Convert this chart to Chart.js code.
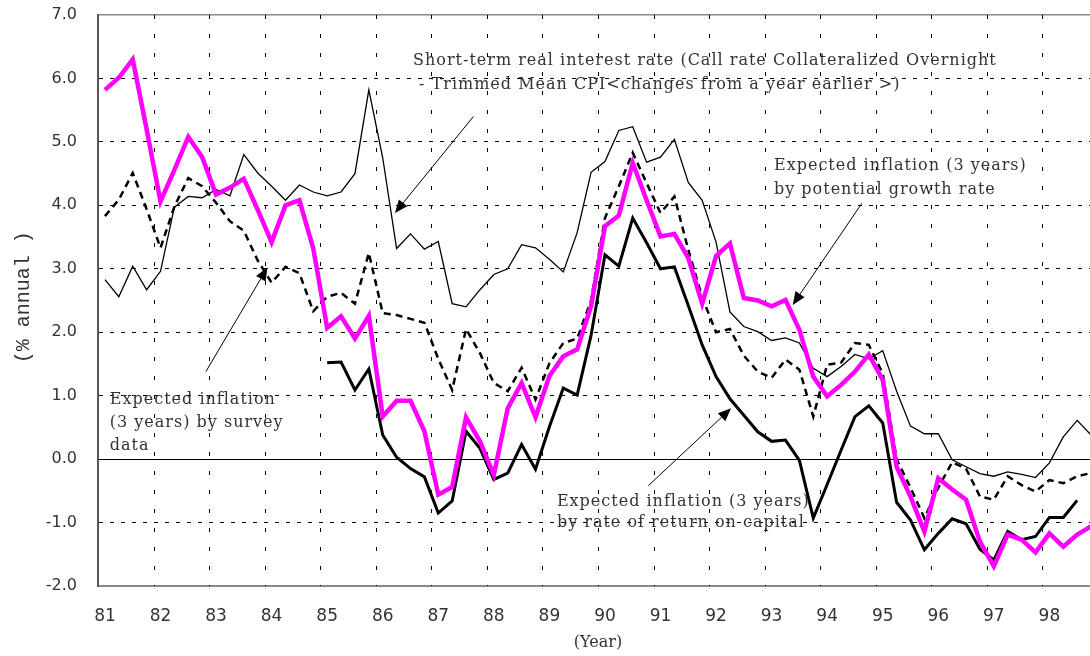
<!DOCTYPE html>
<html>
<head>
<meta charset="utf-8">
<script src="https://cdn.jsdelivr.net/npm/chart.js@4.4.1/dist/chart.umd.min.js"></script>
<style>
  html, body { margin: 0; padding: 0; background: #fff; overflow: hidden; }
  #wrap { width: 1100px; height: 656px; }
</style>
</head>
<body>
<div id="wrap"><canvas id="chart" width="1100" height="656"></canvas></div>
<script>
// quarterly data, 81 Q1 .. 98 Q4
const years = ['81', '82', '83', '84', '85', '86', '87', '88', '89',
               '90', '91', '92', '93', '94', '95', '96', '97', '98'];
const quarters = years.flatMap(y => ['Q1', 'Q2', 'Q3', 'Q4'].map(q => y + q));

// Short-term real interest rate (call rate - trimmed mean CPI)
const realRate = [
  2.83, 2.56, 3.04, 2.67,   2.96, 3.97, 4.14, 4.12,   4.25, 4.15, 4.80, 4.51,
  4.30, 4.08, 4.32, 4.21,   4.15, 4.21, 4.50, 5.82,   4.75, 3.32, 3.55, 3.31,
  3.43, 2.45, 2.40, 2.67,   2.91, 3.00, 3.38, 3.33,   3.15, 2.95, 3.57, 4.52,
  4.69, 5.18, 5.24, 4.68,   4.76, 5.04, 4.36, 4.08,   3.42, 2.32, 2.09, 2.01,
  1.87, 1.91, 1.83, 1.43,   1.30, 1.46, 1.65, 1.58,   1.71, 1.07, 0.52, 0.40,
  0.40, -0.01, -0.12, -0.23, -0.27, -0.20, -0.24, -0.29, -0.06, 0.35, 0.61, 0.38
];

// Expected inflation (3 years) by survey data
const surveyInfl = [
  3.83, 4.09, 4.51, 3.94,   3.33, 3.98, 4.43, 4.30,   4.04, 3.75, 3.60, 3.13,
  2.78, 3.03, 2.93, 2.33,   2.56, 2.62, 2.45, 3.25,   2.30, 2.27, 2.21, 2.15,
  1.58, 1.09, 2.05, 1.67,   1.20, 1.07, 1.44, 0.94,   1.51, 1.83, 1.90, 2.50,
  3.80, 4.30, 4.83, 4.35,   3.88, 4.14, 3.30, 2.55,   2.00, 2.05, 1.63, 1.38,
  1.28, 1.57, 1.41, 0.67,   1.49, 1.52, 1.83, 1.80,   1.35, 0.00, -0.45, -0.93,
  -0.45, -0.05, -0.15, -0.59, -0.64, -0.27, -0.41, -0.51, -0.33, -0.38, -0.27, -0.22
];

// Expected inflation (3 years) by potential growth rate
const growthInfl = [
  5.82, 6.01, 6.30, 5.20,   4.06, 4.56, 5.08, 4.76,   4.17, 4.28, 4.42, 3.93,
  3.42, 4.00, 4.08, 3.32,   2.07, 2.25, 1.90, 2.26,   0.67, 0.92, 0.92, 0.44,
  -0.56, -0.44, 0.66, 0.28, -0.25, 0.80, 1.20, 0.66,  1.31, 1.62, 1.73, 2.41,
  3.67, 3.84, 4.67, 4.08,   3.51, 3.55, 3.17, 2.45,   3.20, 3.40, 2.54, 2.50,
  2.41, 2.51, 2.04, 1.30,   0.99, 1.17, 1.38, 1.65,   1.25, -0.12, -0.59, -1.14,
  -0.30, -0.48, -0.64, -1.30, -1.69, -1.19, -1.27, -1.47, -1.17, -1.38, -1.19, -1.06
];

// Expected inflation (3 years) by rate of return on capital (from 85 Q1)
const capitalInfl = [
  null, null, null, null,   null, null, null, null,   null, null, null, null,
  null, null, null, null,   1.52, 1.53, 1.09, 1.42,   0.38, 0.03, -0.15, -0.28,
  -0.85, -0.66, 0.44, 0.17, -0.32, -0.22, 0.23, -0.16, 0.51, 1.12, 1.01, 1.95,
  3.22, 3.04, 3.80, 3.41,   3.00, 3.03, 2.42, 1.80,   1.30, 0.95, 0.69, 0.43,
  0.28, 0.30, -0.02, -0.93, -0.40, 0.14, 0.67, 0.84,  0.57, -0.68, -0.96, -1.43,
  -1.17, -0.94, -1.02, -1.42, -1.59, -1.14, -1.27, -1.22, -0.92, -0.92, -0.65, null
];

const yMin = -2.0;
const yMax = 7.0;

// annotation texts, placed in axis units (category index, value)
const notes = [
  { at: [22.18, 6.27], gap: 24, lines: [
      'Short-term real interest rate (Call rate Collateralized Overnight',
      ' - Trimmed Mean CPI<changes from a year earlier >)'] },
  { at: [48.17, 4.62], gap: 24, lines: [
      'Expected inflation (3 years)',
      'by potential growth rate'] },
  { at: [0.35, 0.935], gap: 23, lines: [
      'Expected inflation',
      '(3 years) by survey',
      'data'] },
  { at: [32.54, -0.67], gap: 21, lines: [
      'Expected inflation (3 years)',
      'by rate of return on capital'] }
];
const arrows = [
  { from: [26.53, 5.40], to: [20.88, 3.88] },
  { from: [54.49, 4.03], to: [49.52, 2.43] },
  { from: [7.27, 1.38], to: [11.70, 3.02] },
  { from: [39.12, -0.42], to: [45.08, 0.80] }
];

// dashed vertical lines at year boundaries
const yearLines = {
  id: 'yearLines',
  beforeDatasetsDraw(chart) {
    const { ctx, chartArea, scales: { x } } = chart;
    ctx.save();
    ctx.strokeStyle = '#000';
    ctx.lineWidth = 1;
    ctx.setLineDash([4, 15]);
    for (let i = 4; i < quarters.length; i += 4) {
      const px = Math.round(x.getPixelForValue(i - 0.5)) + 0.5;
      ctx.beginPath();
      ctx.moveTo(px, chartArea.top);
      ctx.lineTo(px, chartArea.bottom);
      ctx.stroke();
    }
    ctx.restore();
  }
};

const annotate = {
  id: 'annotate',
  afterDraw(chart) {
    const { ctx, scales: { x, y } } = chart;
    ctx.save();
    ctx.fillStyle = '#333';
    ctx.font = '16px "DejaVu Serif"';
    ctx.letterSpacing = '1px';
    ctx.textBaseline = 'middle';
    notes.forEach(n => {
      const px = x.getPixelForValue(n.at[0]);
      const py = y.getPixelForValue(n.at[1]);
      n.lines.forEach((t, i) => ctx.fillText(t, px, py + i * n.gap));
    });
    ctx.letterSpacing = '0px';
    ctx.strokeStyle = '#000';
    ctx.fillStyle = '#000';
    ctx.lineWidth = 1;
    arrows.forEach(a => {
      const x1 = x.getPixelForValue(a.from[0]), y1 = y.getPixelForValue(a.from[1]);
      const x2 = x.getPixelForValue(a.to[0]), y2 = y.getPixelForValue(a.to[1]);
      const ang = Math.atan2(y2 - y1, x2 - x1);
      const len = 13, half = 5.5;
      const bx = x2 - len * Math.cos(ang), by = y2 - len * Math.sin(ang);
      ctx.beginPath();
      ctx.moveTo(x1, y1);
      ctx.lineTo(bx, by);
      ctx.stroke();
      ctx.beginPath();
      ctx.moveTo(x2, y2);
      ctx.lineTo(bx + half * Math.sin(ang), by - half * Math.cos(ang));
      ctx.lineTo(bx - half * Math.sin(ang), by + half * Math.cos(ang));
      ctx.closePath();
      ctx.fill();
    });
    // y axis title, reads bottom to top
    ctx.fillStyle = '#333';
    ctx.font = '20px "Liberation Mono"';
    ctx.textAlign = 'center';
    ctx.translate(24, y.getPixelForValue(2.55));
    ctx.rotate(-Math.PI / 2);
    ctx.fillText('(% annual )', 0, 0);
    ctx.restore();
  }
};

new Chart(document.getElementById('chart'), {
  type: 'line',
  data: {
    labels: quarters,
    datasets: [
      {
        label: 'Expected inflation (3 years) by potential growth rate',
        data: growthInfl,
        borderColor: '#ff00ff',
        borderWidth: 4.5
      },
      {
        label: 'Expected inflation (3 years) by rate of return on capital',
        data: capitalInfl,
        borderColor: '#000',
        borderWidth: 3
      },
      {
        label: 'Expected inflation (3 years) by survey data',
        data: surveyInfl,
        borderColor: '#000',
        borderWidth: 2.5,
        borderDash: [7, 5]
      },
      {
        label: 'Short-term real interest rate',
        data: realRate,
        borderColor: '#000',
        borderWidth: 1.3
      }
    ]
  },
  options: {
    responsive: false,
    animation: false,
    layout: { padding: { left: 0, top: 15, right: 2, bottom: 0 } },
    elements: { point: { radius: 0 }, line: { tension: 0, fill: false } },
    plugins: {
      legend: { display: false },
      tooltip: { enabled: false }
    },
    scales: {
      x: {
        type: 'category',
        offset: true,
        afterFit: scale => {
          scale.height = 70;
          scale.paddingLeft = 0;
          scale.paddingRight = 0;
        },
        grid: { display: false, drawTicks: false },
        border: { display: true, color: '#888', width: 2 },
        ticks: {
          autoSkip: false,
          maxRotation: 0,
          padding: 20,
          color: '#333',
          font: { family: 'DejaVu Sans', size: 17 },
          callback: (v, i) => i % 4 === 0 ? years[i / 4] : ''
        },
        title: {
          display: true,
          text: '(Year)',
          color: '#333',
          font: { family: 'DejaVu Serif', size: 16 },
          padding: { top: 0, bottom: 4 }
        }
      },
      y: {
        min: yMin,
        max: yMax,
        afterFit: scale => {
          scale.width = 98;
          scale.paddingTop = 0;
          scale.paddingBottom = 0;
        },
        grid: {
          drawTicks: false,
          lineWidth: c => c.tick && c.tick.value === yMax ? 1.5 : 1,
          color: c => {
            if (!c.tick) return '#000';
            if (c.tick.value === yMin) return 'rgba(0,0,0,0)';
            if (c.tick.value === yMax) return '#888';
            return '#000';
          }
        },
        border: {
          display: true,
          color: '#555',
          width: 2,
          dash: c => (c.tick && (c.tick.value === 0 || c.tick.value === yMax)) ? [] : [4, 7]
        },
        ticks: {
          stepSize: 1,
          padding: 21,
          color: '#333',
          font: { family: 'DejaVu Sans', size: 16 },
          callback: v => Number(v).toFixed(1)
        },
        title: { display: false }
      }
    }
  },
  plugins: [yearLines, annotate]
});
</script>
</body>
</html>
